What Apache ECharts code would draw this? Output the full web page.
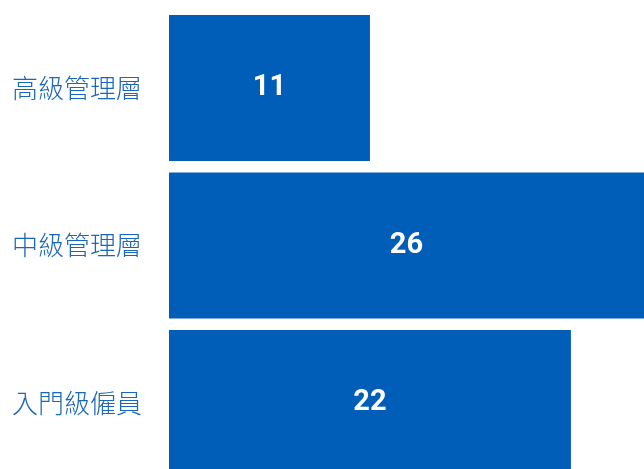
<!DOCTYPE html>
<html><head><meta charset="utf-8">
<script src="https://cdn.jsdelivr.net/npm/echarts@6/dist/echarts.min.js"></script>
<style>html,body{margin:0;padding:0;background:#fff}#c{width:644px;height:469px}</style>
</head><body><div id="c"></div>
<script>
const categories = ['高級管理層', '中級管理層', '入門級僱員'];
const values = [11, 26, 22];
const chart = echarts.init(document.getElementById('c'));
chart.setOption({
  animation: false,
  grid: { left: 169, right: 0, top: 9.25, bottom: -12.75, containLabel: false, outerBoundsMode: 'none' },
  xAxis: { type: 'value', min: 0, max: 26, show: false },
  yAxis: {
    type: 'category', data: categories, inverse: true,
    axisLine: { show: false }, axisTick: { show: false },
    axisLabel: { color: '#1a66bb', fontSize: 26, fontWeight: 300, margin: 27, padding: [0, 0, 5, 0], fontFamily: 'Noto Sans CJK TC' }
  },
  series: [{
    type: 'bar', data: values, barCategoryGap: '7.3%',
    itemStyle: { color: '#005EB8' },
    label: { show: true, position: 'inside', color: '#fff', fontSize: 29, fontWeight: 'bold', fontFamily: 'Roboto' }
  }]
});
</script></body></html>
